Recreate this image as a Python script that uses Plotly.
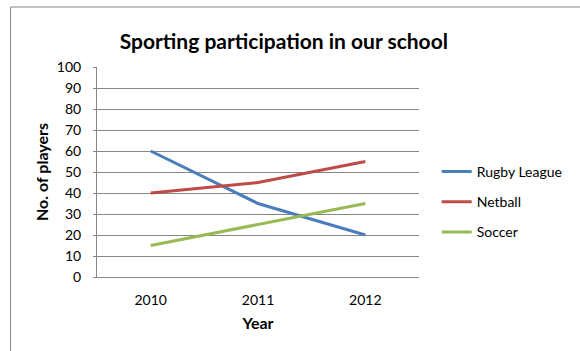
import plotly.graph_objects as go

# Participation counts per year
years = ["2010", "2011", "2012"]
rugby_league = [60, 35, 20]
netball = [40, 45, 55]
soccer = [15, 25, 35]

series = [
    ("Rugby League", rugby_league, "#4A7EBB"),
    ("Netball", netball, "#BE4B48"),
    ("Soccer", soccer, "#98B954"),
]

FONT = "Lato, 'Liberation Sans', sans-serif"

fig = go.Figure()
for i, (name, vals, color) in enumerate(series):
    fig.add_trace(go.Scatter(
        x=years, y=vals, name=name, mode="lines",
        line=dict(color=color, width=3),
        legendgroup=f"g{i}",
    ))

fig.update_layout(
    width=580, height=351,
    margin=dict(l=97, r=159, t=67, b=74),
    paper_bgcolor="white", plot_bgcolor="white",
    font=dict(family=FONT, size=14, color="#000000"),
    title=dict(
        text="<b>Sporting participation in our school</b>",
        font=dict(family=FONT, size=21, color="#000000"),
        x=(285 - 97) / 324, xanchor="center", xref="paper",
        y=1 - 42 / 351, yanchor="middle",
    ),
    showlegend=True,
    legend=dict(
        x=1.055, xanchor="left", y=(277 - 202) / 210, yanchor="middle",
        font=dict(family=FONT, size=14),
        tracegroupgap=9, traceorder="grouped",
        bgcolor="rgba(0,0,0,0)",
    ),
    xaxis=dict(
        type="category", range=[-0.5, 2.5],
        showline=True, linecolor="#868686", linewidth=1,
        showgrid=False, ticks="", ticklabelstandoff=10,
        tickfont=dict(size=14),
        title=dict(text="<b>Year</b>", font=dict(size=16), standoff=11),
    ),
    yaxis=dict(
        range=[0, 100], dtick=10, tick0=0,
        showline=True, linecolor="#868686", linewidth=1,
        showgrid=True, gridcolor="#868686", gridwidth=1,
        ticks="outside", ticklen=3, tickcolor="#868686",
        ticklabelstandoff=9, zeroline=False,
        tickfont=dict(size=14),
        title=dict(text="<b>No. of players</b>", font=dict(size=16), standoff=4),
    ),
)

# Chart area border, running off the right and bottom edges
fig.add_shape(
    type="rect", xref="paper", yref="paper",
    x0=(10 - 97) / 324, x1=(600 - 97) / 324,
    y0=(277 - 370) / 210, y1=(277 - 7) / 210,
    line=dict(color="#868686", width=1), fillcolor="rgba(0,0,0,0)",
    layer="below",
)

fig.write_html("out.html")
